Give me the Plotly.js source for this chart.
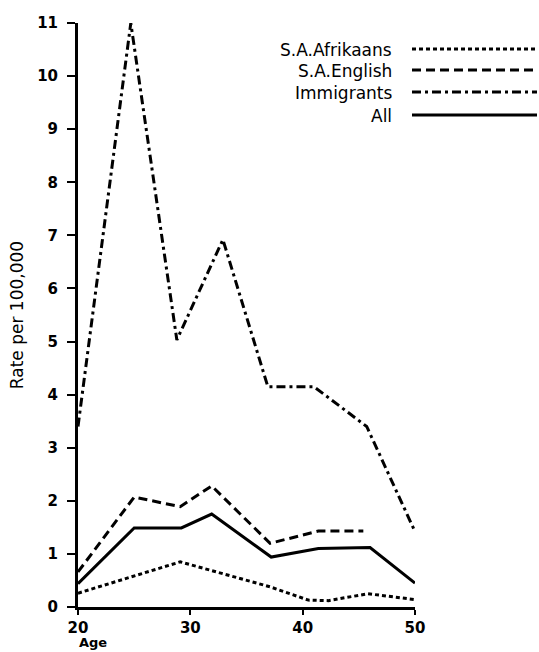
<!DOCTYPE html>
<html><head><meta charset="utf-8">
<script src="https://cdn.plot.ly/plotly-3.0.1.min.js"></script>
<style>html,body{margin:0;padding:0;background:#fff}#chart{width:539px;height:652px}</style>
</head><body><div id="chart"></div>
<script>
const seriesNames = ['S.A.Afrikaans', 'S.A.English', 'Immigrants', 'All'];
const afrikaansAge = [20, 29.1, 37.1, 40.5, 42.3, 45.8, 50];
const afrikaansRate = [0.26, 0.85, 0.38, 0.13, 0.12, 0.25, 0.14];
const englishAge = [20, 25.0, 29.1, 31.9, 37.1, 41.4, 45.4];
const englishRate = [0.66, 2.07, 1.89, 2.28, 1.20, 1.43, 1.43];
const immigrantsAge = [20, 24.7, 28.8, 32.9, 36.9, 41.0, 45.7, 50];
const immigrantsRate = [3.4, 11.0, 5.03, 6.92, 4.15, 4.15, 3.40, 1.42];
const allAge = [20, 25.0, 29.2, 31.9, 37.2, 41.4, 46.0, 50];
const allRate = [0.44, 1.49, 1.49, 1.75, 0.94, 1.10, 1.12, 0.45];
const xTickVals = [20, 30, 40, 50];
const xTickText = ['20', '30', '40', '50'];
const yTickVals = [0, 1, 2, 3, 4, 5, 6, 7, 8, 9, 10, 11];
const yTickText = ['0', '1', '2', '3', '4', '5', '6', '7', '8', '9', '10', '11'];

const dashes = ['4px,3px', '9px,5px', '9px,4px,3px,4px', 'solid'];
const xs = [afrikaansAge, englishAge, immigrantsAge, allAge];
const ys = [afrikaansRate, englishRate, immigrantsRate, allRate];

const FONT = 'DejaVu Sans, sans-serif';
const traces = seriesNames.map((n, i) => ({
  type: 'scatter', mode: 'lines', name: n, x: xs[i], y: ys[i],
  line: {color: '#000', width: 3, dash: dashes[i]},
  cliponaxis: false, showlegend: false, hoverinfo: 'skip'
}));

// plot geometry (pixels)
const L = 78, R = 124, T = 23, B = 45, W = 539, H = 652;
const pw = W - L - R, ph = H - T - B;
const px2x = p => (p - L) / pw;
const py2y = p => (H - B - p) / ph;

const legendRowsY = [49, 70, 92, 115];
const shapes = [], annotations = [];
seriesNames.forEach((n, i) => {
  shapes.push({type: 'line', xref: 'paper', yref: 'paper',
    x0: px2x(412), x1: px2x(537), y0: py2y(legendRowsY[i]), y1: py2y(legendRowsY[i]),
    line: {color: '#000', width: 3, dash: dashes[i]}});
  annotations.push({text: n, xref: 'paper', yref: 'paper', x: px2x(394), y: py2y(legendRowsY[i] + 1),
    xanchor: 'right', yanchor: 'middle', showarrow: false,
    font: {family: FONT, size: 17, color: '#000'}});
});
annotations.push({text: 'Age', xref: 'paper', yref: 'paper', x: px2x(77), y: py2y(642),
  xanchor: 'left', yanchor: 'middle', showarrow: false,
  font: {family: FONT, size: 13, color: '#000', weight: 'bold'}});

const layout = {
  width: W, height: H,
  margin: {l: L, r: R, t: T, b: B, pad: 0},
  paper_bgcolor: '#fff', plot_bgcolor: '#fff',
  showlegend: false,
  font: {family: FONT, color: '#000'},
  xaxis: {range: [20, 50], tickvals: xTickVals, ticktext: xTickText,
    showgrid: false, zeroline: false, showline: true, linewidth: 3, linecolor: '#000',
    ticks: 'outside', ticklen: 5, tickwidth: 2, tickcolor: '#000',
    tickfont: {family: FONT, size: 15, color: '#000', weight: 'bold'}, fixedrange: true},
  yaxis: {range: [0, 11], tickvals: yTickVals, ticktext: yTickText,
    showgrid: false, zeroline: false, showline: true, linewidth: 3, linecolor: '#000',
    ticks: 'outside', ticklen: 8, tickwidth: 2, tickcolor: '#000', ticklabelstandoff: 6,
    tickfont: {family: FONT, size: 15, color: '#000', weight: 'bold'}, fixedrange: true,
    title: {text: 'Rate per 100,000', standoff: 10, font: {family: FONT, size: 17, color: '#000'}}},
  shapes: shapes, annotations: annotations
};
Plotly.newPlot('chart', traces, layout, {displayModeBar: false, staticPlot: true});
</script>
</body></html>
